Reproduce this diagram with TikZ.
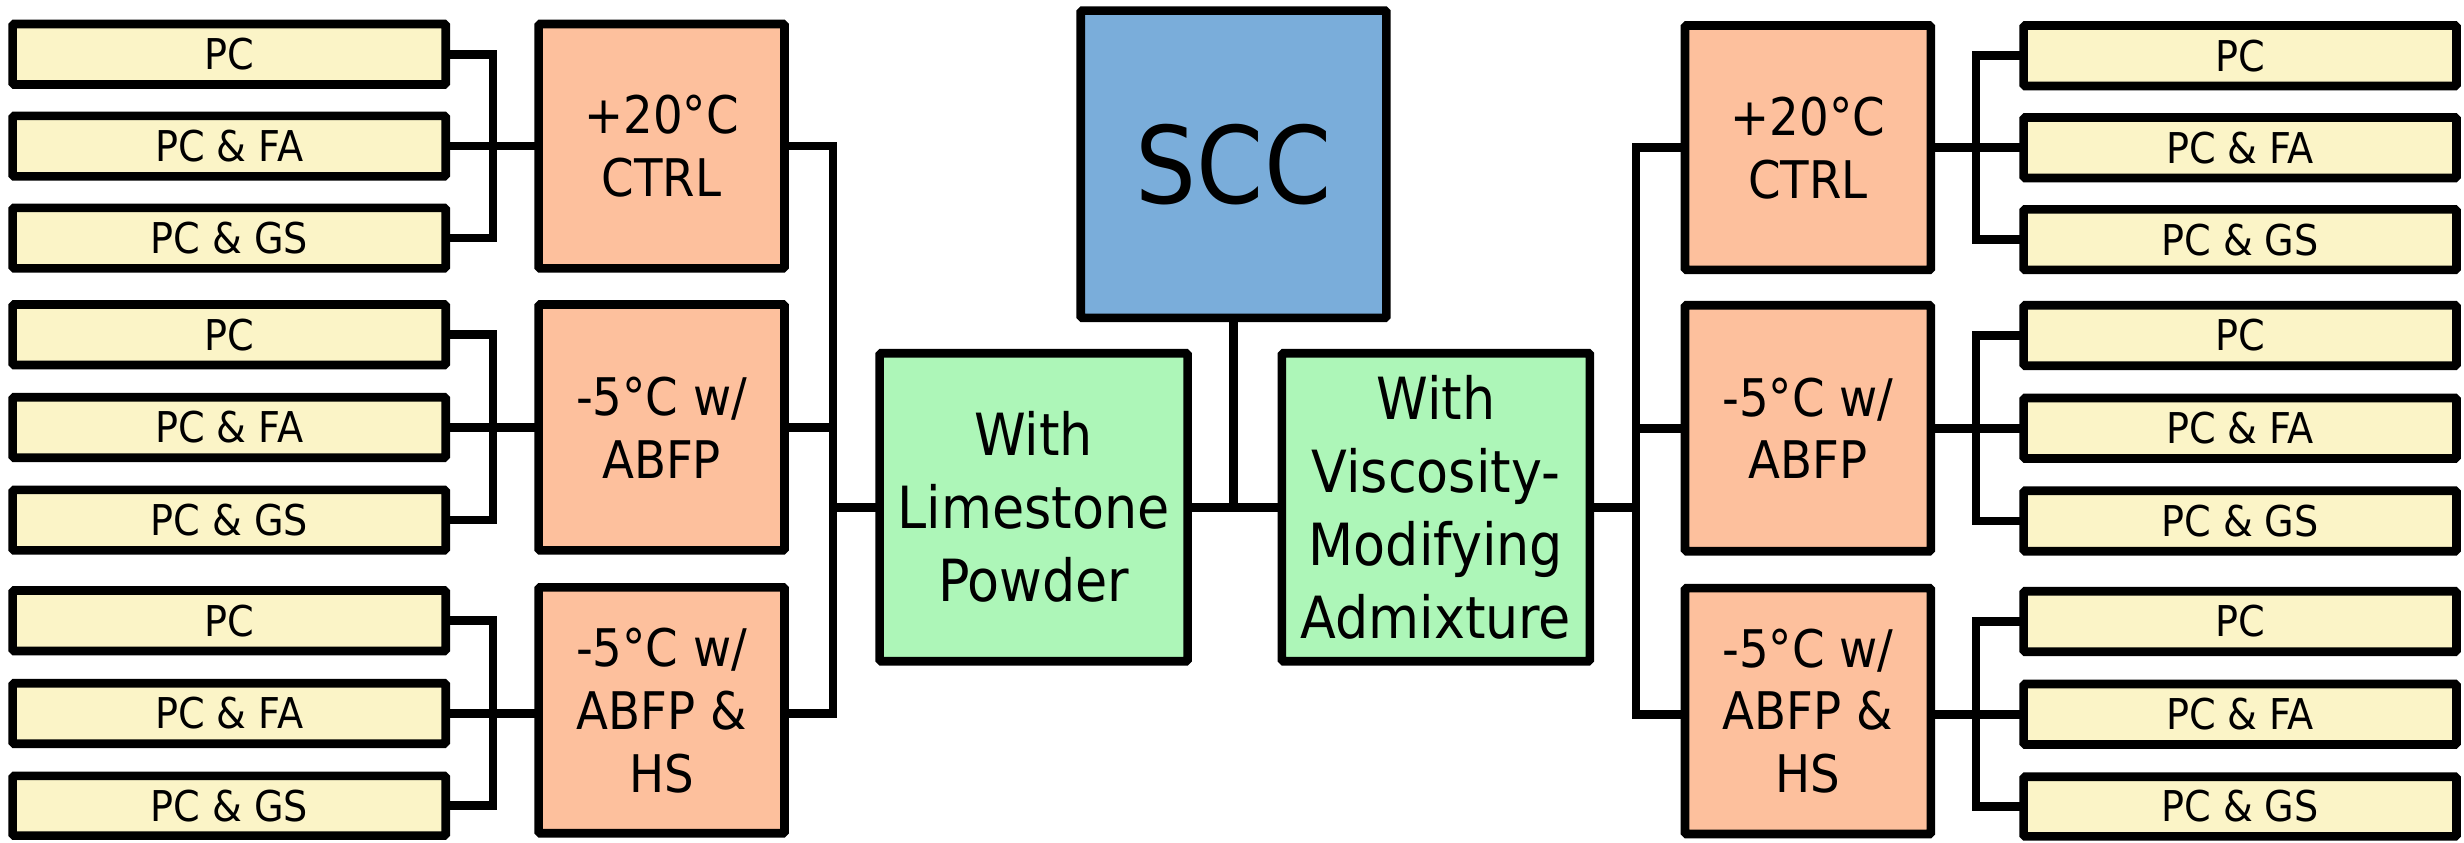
\documentclass[tikz,border=0pt]{standalone}
\usepackage{fontspec}
\setmainfont{DejaVu Sans Condensed}
\definecolor{yel}{HTML}{FBF4C7}
\definecolor{org}{HTML}{FDC09D}
\definecolor{grn}{HTML}{ADF6B8}
\definecolor{blu}{HTML}{7AADDA}
\def\lw{5.5}
\newcommand\bx[7]{%
  \node[#1, minimum width={#5-#3-\lw}, minimum height={#6-#4-\lw}] (#2) at ({(#3+#5)/2},{(#4+#6)/2}) {#7};}
\tikzset{
  box/.style={draw=black, line width=\lw pt, rounded corners=1pt, inner sep=0pt, outer sep=0pt, align=center, text=black},
  ybox/.style={box, fill=yel, font=\fontsize{27}{32}\selectfont},
  obox/.style={box, fill=org, font=\fontsize{33}{40}\selectfont},
  gbox/.style={box, fill=grn, font=\fontsize{37}{46.5}\selectfont},
  sbox/.style={box, fill=blu, font=\fontsize{68}{80}\selectfont},
  conn/.style={draw=black, line width=\lw pt, line join=miter},
}
\begin{document}
\begin{tikzpicture}[x=1pt,y=-1pt]
\useasboundingbox (0,0) rectangle (1568,536);
% central
\bx{sbox}{scc}{685}{4}{885}{205}{SCC}
\bx{gbox}{gl}{557}{222}{758.5}{423.5}{With\\Limestone\\Powder}
\bx{gbox}{gr}{813}{222}{1014.5}{423.5}{With\\Viscosity-\\Modifying\\Admixture}
% left orange
\bx{obox}{lo1}{340}{12.5}{502}{173.5}{+20°C\\CTRL}
\bx{obox}{lo2}{340}{191}{502}{353}{-5°C w/\\ABFP}
\bx{obox}{lo3}{340}{371}{502}{533}{-5°C w/\\ABFP \&\\HS}
% right orange
\bx{obox}{ro1}{1069.5}{13.5}{1231.5}{174.5}{+20°C\\CTRL}
\bx{obox}{ro2}{1069.5}{191.5}{1231.5}{353.5}{-5°C w/\\ABFP}
\bx{obox}{ro3}{1069.5}{371.5}{1231.5}{533.5}{-5°C w/\\ABFP \&\\HS}
% left yellow
\bx{ybox}{ly11}{5.3}{12.5}{286.4}{56.5}{PC}
\bx{ybox}{ly12}{5.3}{71}{286.4}{115}{PC \& FA}
\bx{ybox}{ly13}{5.3}{129.5}{286.4}{173.5}{PC \& GS}
\bx{ybox}{ly21}{5.3}{191}{286.4}{235}{PC}
\bx{ybox}{ly22}{5.3}{250}{286.4}{294}{PC \& FA}
\bx{ybox}{ly23}{5.3}{309}{286.4}{353}{PC \& GS}
\bx{ybox}{ly31}{5.3}{373}{286.4}{417}{PC}
\bx{ybox}{ly32}{5.3}{432}{286.4}{476}{PC \& FA}
\bx{ybox}{ly33}{5.3}{491}{286.4}{534.5}{PC \& GS}
% right yellow
\bx{ybox}{ry11}{1285}{13.5}{1566}{57.5}{PC}
\bx{ybox}{ry12}{1285}{72}{1566}{116}{PC \& FA}
\bx{ybox}{ry13}{1285}{130.5}{1566}{174.5}{PC \& GS}
\bx{ybox}{ry21}{1285}{191.5}{1566}{235.5}{PC}
\bx{ybox}{ry22}{1285}{250.5}{1566}{294.5}{PC \& FA}
\bx{ybox}{ry23}{1285}{309.5}{1566}{353.5}{PC \& GS}
\bx{ybox}{ry31}{1285}{373.5}{1566}{417.5}{PC}
\bx{ybox}{ry32}{1285}{432.5}{1566}{476.5}{PC \& FA}
\bx{ybox}{ry33}{1285}{491.5}{1566}{535}{PC \& GS}
% junction columns
\coordinate (vl1) at (313.7,0);
\coordinate (vl2) at (530,0);
\coordinate (vr2) at (1041,0);
\coordinate (vr1) at (1257.5,0);
% yellow <-> orange
\foreach \g in {1,2,3}{
  \draw[conn] (ly\g1.east) -- (ly\g1.east -| vl1) -- (ly\g3.east -| vl1) -- (ly\g3.east);
  \draw[conn] (ly\g2.east) -- (lo\g.west |- ly\g2.east);
  \draw[conn] (ry\g1.west) -- (ry\g1.west -| vr1) -- (ry\g3.west -| vr1) -- (ry\g3.west);
  \draw[conn] (ry\g2.west) -- (ro\g.east |- ry\g2.west);
}
% orange -> green
\draw[conn] (lo1.east |- ly12.east) -- (ly12.east -| vl2) -- (ly32.east -| vl2) -- (lo3.east |- ly32.east);
\draw[conn] (lo2.east |- ly22.east) -- (ly22.east -| vl2);
\draw[conn] (gl.west) -- (gl.west -| vl2);
\draw[conn] (ro1.west |- ry12.west) -- (ry12.west -| vr2) -- (ry32.west -| vr2) -- (ro3.west |- ry32.west);
\draw[conn] (ro2.west |- ry22.west) -- (ry22.west -| vr2);
\draw[conn] (gr.east) -- (gr.east -| vr2);
% center
\draw[conn] (gl.east) -- (gr.west);
\draw[conn] (scc.south) -- (scc.south |- gl.east);
\end{tikzpicture}
\end{document}
